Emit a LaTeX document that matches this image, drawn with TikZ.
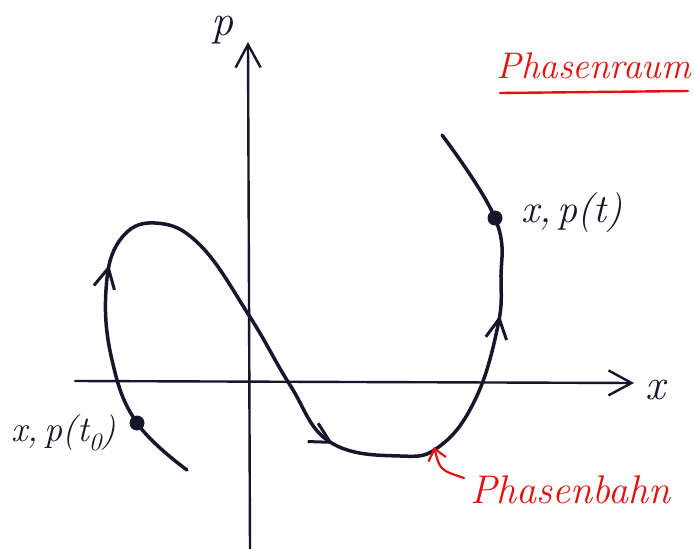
\documentclass[tikz,border=0pt]{standalone}
\usepackage{fontspec}
\usetikzlibrary{arrows.meta,decorations.markings}
\definecolor{ink}{HTML}{17172B}
\definecolor{pen}{HTML}{E3120F}
\tikzset{orbtip/.tip={Straight Barb[length=20pt,width=21pt,line width=3pt]}}
\begin{document}
\begin{tikzpicture}[x=1pt,y=-1pt,
  axis/.style={line width=2.4pt, draw=ink, line cap=round,
    -{Straight Barb[length=23pt,width=25pt,line width=2.4pt]}},
  orbit/.style={line width=3.5pt, draw=ink, line cap=round, line join=round},
  dot/.style={circle, fill=ink, inner sep=0pt, minimum size=15pt},
  lbl/.style={text=ink, inner sep=0pt},
  red/.style={text=pen, inner sep=0pt, font=\fontsize{40}{40}\selectfont\itshape}]
\useasboundingbox (0,0) rectangle (694,549);
\fill[white] (0,0) rectangle (694,549);
% axes
\coordinate (pb) at (250,549);
\coordinate (pt) at (248,42);
\coordinate (xl) at (75,381);
\coordinate (xr) at (634,383);
\draw[axis] (pb) -- (pt);
\draw[axis] (xl) -- (xr);
\node[lbl, font=\fontsize{44}{44}\selectfont\itshape] (plab) at (222,30) {p};
\node[lbl, font=\fontsize{44}{44}\selectfont\itshape] (xlab) at (655,390) {x};
% orbit
\draw[orbit, postaction={decorate}, decoration={markings,
    mark=at position 0.222 with {\arrow[ink]{orbtip}},
    mark=at position 0.566 with {\arrow[ink]{orbtip}},
    mark=at position 0.812 with {\arrow[ink]{orbtip}}}]
  plot[smooth, tension=0.7] coordinates {
  (187,470) (137,423) (112,360) (106,290) (120,240) (155,223) (200,245)
  (250,317) (290,385) (330,442) (400,456) (440,446) (475,400) (497,330)
  (501,280) (495,218) (442,135)};
\node[dot] (d0) at (137,423) {};
\node[dot] (d1) at (495,218) {};
\node[lbl, font=\fontsize{36}{36}\selectfont\itshape] (l0) at (64,433) {x,\,p(t\textsubscript{0})};
\node[lbl, font=\fontsize{40}{40}\selectfont\itshape] (l1) at (572,213) {x,\,p(t)};
% red labels
\node[red, anchor=east, font=\fontsize{37}{37}\selectfont\itshape] (raum) at (691,66) {Phasenraum};
\coordinate (u0) at (500,93);
\coordinate (u1) at (688,91);
\draw[pen, line width=2.4pt, line cap=round] (u0) -- (u1);
\node[red, anchor=west] (bahn) at (470,490) {Phasenbahn};
\coordinate (bt) at (434,447);
\coordinate (b0) at (464,478);
\draw[pen, line width=2.2pt, line cap=round,
  -{Straight Barb[length=11pt,width=18pt,line width=2.2pt]}]
  (b0) .. controls (440,470) .. (bt);
\end{tikzpicture}
\end{document}
